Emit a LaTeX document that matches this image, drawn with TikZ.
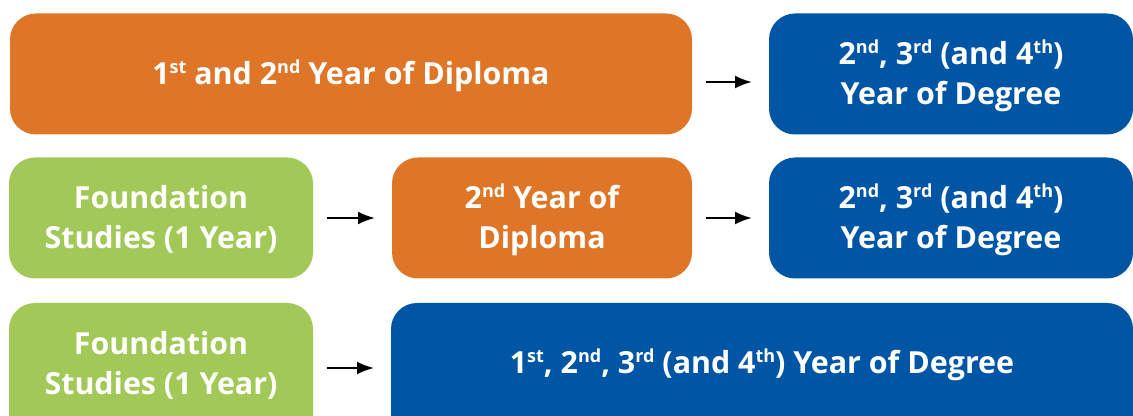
\documentclass[tikz,border=0pt]{standalone}
\usepackage{fontspec}
\setmainfont{Open Sans}
\usetikzlibrary{arrows.meta}
\definecolor{diplomaorange}{HTML}{DE7527}
\definecolor{degreeblue}{HTML}{0055A4}
\definecolor{foundgreen}{HTML}{A2C857}
\newcommand{\ord}[1]{\raisebox{5.6pt}{\fontsize{9}{9}\selectfont #1}}
% the top kern moves the text a little down in its box
\newcommand{\boxtext}[2][3pt]{\vbox{\kern#1\hbox{\begin{tabular}{@{}c@{}}#2\end{tabular}}}}
\tikzset{
  stagebox/.style={rounded corners=13pt,inner sep=0pt,outer sep=0pt,minimum height=60.5pt,
    text=white,font=\fontsize{15.2}{20}\selectfont\bfseries},
  diploma/.style={stagebox,fill=diplomaorange},
  degree/.style={stagebox,fill=degreeblue},
  found/.style={stagebox,fill=foundgreen},
  stagearrow/.style={-{Latex[length=8.5pt,width=6.5pt]},line width=1.1pt,shorten <=7pt,shorten >=8.5pt}
}
\begin{document}
\begin{tikzpicture}[x=0.5pt,y=-0.5pt]
            \useasboundingbox (0,0) rectangle (1133,416);
            % first row
            \node[diploma,minimum width=341pt] (dipA) at (351,74) {\boxtext{1\ord{st} and 2\ord{nd} Year of Diploma}};
            \node[degree,minimum width=182pt] (degA) at (951,74) {\boxtext{2\ord{nd}, 3\ord{rd} (and 4\ord{th})\\Year of Degree}};
            \draw[stagearrow] (dipA.east |- 0,82) -- (degA.west |- 0,82);

            % second row
            \node[found,minimum width=152pt] (fndB) at (161,218) {\boxtext{Foundation\\Studies (1 Year)}};
            \node[diploma,minimum width=150pt] (dipB) at (542,218) {\boxtext{2\ord{nd} Year of\\Diploma}};
            \node[degree,minimum width=182pt] (degB) at (951,218) {\boxtext{2\ord{nd}, 3\ord{rd} (and 4\ord{th})\\Year of Degree}};
            \draw[stagearrow] (fndB) -- (dipB);
            \draw[stagearrow] (dipB) -- (degB);

            % third row, cut off at the bottom
            \node[found,minimum width=152pt,minimum height=70pt] (fndC) at (161,373) {\boxtext[-7pt]{Foundation\\Studies (1 Year)}};
            \node[degree,minimum width=371pt,minimum height=70pt] (degC) at (762,373) {\boxtext[-7pt]{1\ord{st}, 2\ord{nd}, 3\ord{rd} (and 4\ord{th}) Year of Degree}};
            \draw[stagearrow] (fndC.east |- 0,368) -- (degC.west |- 0,368);
        \end{tikzpicture}
\end{document}
